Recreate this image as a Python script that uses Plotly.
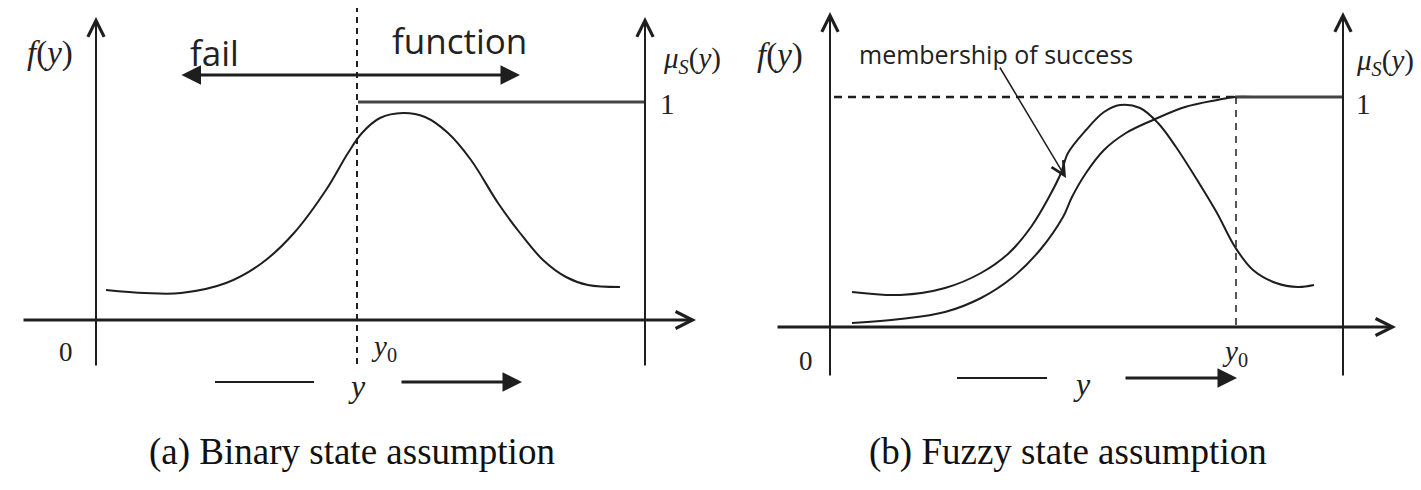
import plotly.graph_objects as go

# all coordinates in pixels (y grows downward)

# ---- panel (a): binary state
bell_a_x = [106, 145, 181, 226, 262, 294, 326, 348, 362, 380, 403, 425, 448, 471, 498, 520, 543, 566, 588, 620]
bell_a_y = [290, 293, 293, 283, 263, 233, 190, 153, 133, 118, 113, 117, 133, 160, 203, 233, 260, 277, 285, 287]
step_a_x = [358, 645]
step_a_y = [102, 102]

# ---- panel (b): fuzzy state
bell_b_x = [852, 900, 945, 981, 1009, 1031, 1049, 1061, 1068, 1086, 1104, 1120, 1140, 1158, 1176, 1199, 1217, 1235, 1253, 1276, 1298, 1314]
bell_b_y = [292, 295, 288, 273, 253, 227, 197, 173, 153, 130, 112, 105, 108, 123, 147, 183, 213, 247, 270, 283, 287, 285]
memb_x = [852, 900, 945, 981, 1013, 1040, 1063, 1072, 1086, 1104, 1126, 1153, 1185, 1217, 1235, 1253]
memb_y = [323, 319, 312, 298, 277, 250, 217, 197, 173, 150, 133, 120, 107, 100, 97, 97]
level_b_x = [1235, 1343]
level_b_y = [97, 97]

ink = "#1e1e1e"
fig = go.Figure()


def line(xs, ys, width=2, dash=None, shape="linear", color=ink):
    fig.add_trace(go.Scatter(x=xs, y=ys, mode="lines", hoverinfo="skip",
                             line=dict(color=color, width=width, dash=dash, shape=shape, smoothing=1.0)))


# curves
line(bell_a_x, bell_a_y, 2, shape="spline")
line(step_a_x, step_a_y, 3, color="#444")
line(bell_b_x, bell_b_y, 2, shape="spline")
line(memb_x, memb_y, 2, shape="spline")
line(level_b_x, level_b_y, 3, color="#444")

# dashed guides
line([357, 357], [6, 366], 2, dash="6px,5px")
line([834, 1235], [97, 97], 2.5, dash="8px,6px")
line([1236, 1236], [97, 326], 1.5, dash="7px,6px")

# short lead-in strokes of the "— y →" labels
line([215, 314], [382, 382], 2)
line([957, 1047], [378, 378], 2)

annotations = []


def arrow(x0, y0, x1, y1, head=5, width=2, size=1.6, both=False):
    annotations.append(dict(x=x1, y=y1, ax=x0, ay=y0, xref="x", yref="y", axref="x", ayref="y",
                            text="", showarrow=True, arrowhead=head, arrowwidth=width,
                            arrowsize=size, arrowcolor=ink, standoff=0, startstandoff=0,
                            arrowside="end+start" if both else "end",
                            startarrowhead=head, startarrowsize=size))


# axes (a)
arrow(96, 367, 96, 17)
arrow(645, 367, 645, 17)
arrow(22, 320, 696, 320, width=3, size=1.1)
# axes (b)
arrow(830, 377, 830, 12)
arrow(1343, 377, 1343, 12)
arrow(776, 327, 1396, 327, width=3, size=1.1)

# fail / function double arrow and y-direction arrows
arrow(180, 75, 520, 75, head=2, width=3, size=1.3, both=True)
arrow(400, 382, 522, 382, head=2, width=3, size=1.3)
arrow(1124, 378, 1237, 378, head=2, width=3, size=1.3)
# membership pointer
arrow(999, 66, 1066, 178, head=5, width=1.5, size=1.8)


def text(x, y, s, size, family="Liberation Serif", color="#222", anchor="center"):
    annotations.append(dict(x=x, y=y, xref="x", yref="y", text=s, showarrow=False,
                            xanchor=anchor, yanchor="middle",
                            font=dict(family=family, size=size, color=color)))


sans = "Open Sans"
text(50, 53, "<i>f</i>(<i>y</i>)", 33)
text(214, 52, "fail", 35, sans, "#222")
text(459, 40, "function", 35, sans, "#222")
text(692, 60, "<i>μ<sub>S</sub></i>(<i>y</i>)", 29)
text(667, 104, "1", 29)
text(66, 352, "0", 27)
text(384, 348, "<i>y</i><sub>0</sub>", 29)
text(357, 386, "<i>y</i>", 32)

text(780, 55, "<i>f</i>(<i>y</i>)", 33)
text(996, 54, "membership of success", 25, sans, "#222")
text(1385, 62, "<i>μ<sub>S</sub></i>(<i>y</i>)", 29)
text(1363, 104, "1", 29)
text(806, 361, "0", 27)
text(1235, 353, "<i>y</i><sub>0</sub>", 29)
text(1082, 384, "<i>y</i>", 32)

text(352, 452, "(a) Binary state assumption", 37, color="#111")
text(1068, 452, "(b) Fuzzy state assumption", 37, color="#111")

# the page body keeps an 8px margin, so the figure is 8px smaller and the
# ranges start at 8 to keep picture pixel coordinates aligned
fig.update_layout(
    width=1413, height=482,
    margin=dict(l=0, r=0, t=0, b=0),
    paper_bgcolor="white", plot_bgcolor="white",
    showlegend=False,
    annotations=annotations,
    xaxis=dict(range=[8, 1421], visible=False, fixedrange=True),
    yaxis=dict(range=[490, 8], visible=False, fixedrange=True),
)

fig.write_html("out.html")
